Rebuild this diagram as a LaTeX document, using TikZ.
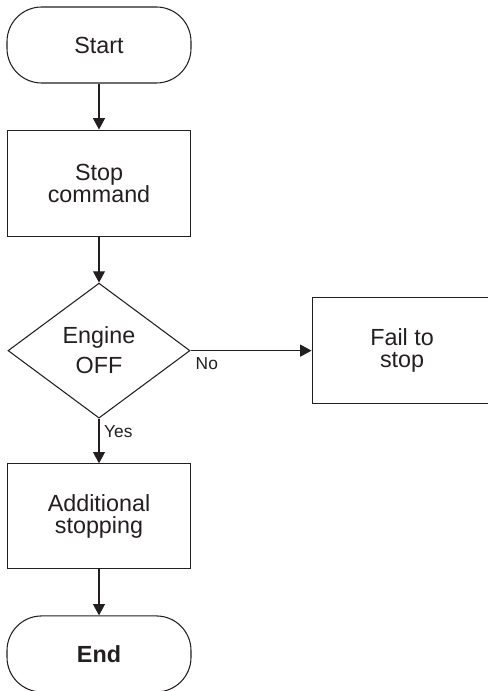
\documentclass[tikz,border=0pt]{standalone}
\usepackage{fontspec}
\setmainfont{Liberation Sans}
\usetikzlibrary{arrows.meta,positioning,shapes.geometric}
\definecolor{fcline}{RGB}{35,31,32}

\begin{document}
\begin{tikzpicture}[
node distance=34.5pt,
every node/.style={text=fcline,font=\fontsize{17.5}{16.5}\selectfont},
term/.style={draw=fcline,line width=0.8pt,rounded corners=26pt,align=center,minimum width=138pt,minimum height=57pt,inner sep=0pt},
proc/.style={draw=fcline,line width=0.8pt,align=center,minimum width=137.25pt,minimum height=79.5pt,inner sep=0pt},
dec/.style={draw=fcline,line width=0.8pt,diamond,align=center,minimum width=136.5pt,minimum height=101.25pt,inner sep=0pt,font=\fontsize{17.5}{22.5}\selectfont},
lbl/.style={font=\fontsize{13}{14}\selectfont,inner sep=3.5pt},
arr/.style={-{Triangle[length=8.5pt,width=9pt]},line width=0.8pt,draw=fcline}
]
\useasboundingbox (0,0) rectangle (365.25pt,-518.25pt);
\node[term] (start) at (74.25pt,-33.75pt) {Start};
\node[proc, below=of start] (stopcmd) {Stop\\command};
\node[dec, below=34.5pt of stopcmd] (engine) {Engine\\OFF};
\node[proc, right=90.75pt of engine, minimum width=135pt] (fail) {Fail to\\stop};
\node[proc, below=33.5pt of engine, minimum height=78.75pt] (extra) {Additional\\stopping};
\node[term, below=of extra, font=\fontsize{17.5}{16.5}\selectfont\bfseries] (end) {End};
\draw[arr] (start) -- (stopcmd);
\draw[arr] (stopcmd) -- (engine);
\draw[arr] (engine.east) -- node[pos=0,below right,lbl,yshift=-1pt] {No} (fail);
\draw[arr] (engine.south) -- node[pos=0.3,right,lbl] {Yes} (extra);
\draw[arr] (extra) -- (end);
\end{tikzpicture}
\end{document}
